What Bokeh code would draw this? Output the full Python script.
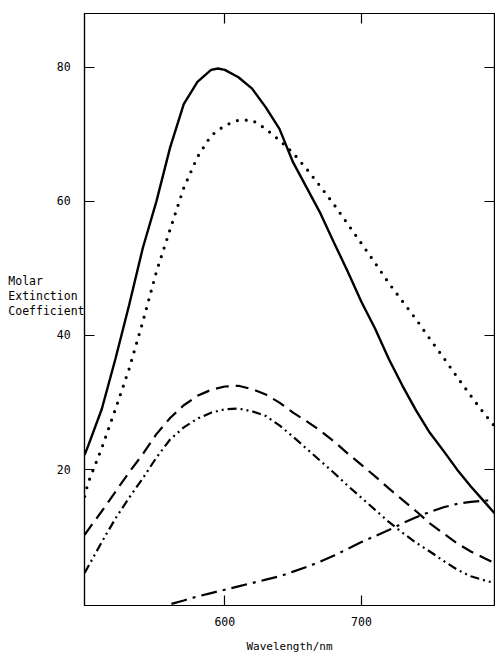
from bokeh.plotting import figure
from bokeh.models import LinearAxis, FixedTicker, Range1d
from bokeh.embed import file_html
from bokeh.resources import INLINE

# ---- data ----
wl_a = [497.5, 500, 510, 520, 530, 540, 550, 560, 570, 580, 590, 595, 600, 610, 620, 630,
        640, 650, 660, 670, 680, 690, 700, 710, 720, 730, 740, 750, 760, 770, 780, 790, 797.3]
eps_a = [22.2, 23.5, 29.0, 36.5, 44.5, 53.0, 60.0, 68.0, 74.5, 77.8, 79.6, 79.8, 79.6, 78.5, 76.8, 74.0,
         70.8, 65.8, 62.0, 58.2, 53.8, 49.5, 45.0, 41.0, 36.5, 32.5, 28.8, 25.5, 22.8, 20.0, 17.5, 15.2, 13.5]

wl_b = [497.5, 500, 510, 520, 530, 540, 550, 560, 570, 580, 590, 600, 610, 620, 630, 640, 650,
        660, 670, 680, 690, 700, 710, 720, 730, 740, 750, 760, 770, 780, 790, 797.3]
eps_b = [16.0, 18.0, 23.2, 29.0, 35.0, 42.0, 49.5, 55.8, 62.0, 66.6, 69.8, 71.3, 72.1, 72.1, 70.8, 69.1, 67.2,
         64.8, 62.2, 59.5, 56.6, 53.7, 50.8, 47.8, 45.1, 42.4, 39.5, 36.7, 33.8, 31.0, 28.3, 26.5]

wl_c = [497.5, 510, 520, 530, 540, 550, 560, 570, 580, 590, 600, 610, 620, 630, 640, 650, 660,
        670, 680, 690, 700, 710, 720, 730, 740, 750, 760, 770, 780, 790, 797.3]
eps_c = [10.3, 13.8, 16.7, 19.6, 22.3, 25.3, 27.7, 29.6, 31.0, 31.9, 32.4, 32.5, 32.0, 31.2, 30.0, 28.5, 27.2,
         25.8, 24.2, 22.4, 20.7, 19.0, 17.2, 15.5, 13.8, 12.0, 10.5, 9.0, 7.8, 6.8, 6.1]

wl_d = [497.5, 510, 520, 530, 540, 550, 560, 570, 580, 590, 600, 610, 620, 630, 640, 650, 660,
        670, 680, 690, 700, 710, 720, 730, 740, 750, 760, 770, 780, 790, 797.3]
eps_d = [4.6, 9.2, 12.7, 15.8, 18.7, 21.8, 24.5, 26.3, 27.6, 28.5, 29.0, 29.1, 28.7, 28.0, 26.6, 24.9, 23.1,
         21.3, 19.5, 17.6, 15.8, 14.0, 12.2, 10.6, 9.1, 7.8, 6.4, 5.1, 4.1, 3.5, 3.1]

wl_e = [561, 570, 580, 590, 600, 610, 620, 630, 640, 650, 660, 670, 680, 690, 700, 710, 720,
        730, 740, 750, 760, 770, 780, 790, 797.3]
eps_e = [0.0, 0.5, 1.1, 1.6, 2.1, 2.6, 3.1, 3.6, 4.1, 4.8, 5.5, 6.3, 7.2, 8.2, 9.2, 10.1, 11.0,
         12.0, 12.9, 13.7, 14.4, 14.9, 15.2, 15.4, 15.4]

x_ticks = [600, 700]
y_ticks = [20, 40, 60, 80]
y_title_lines = ["Molar", "Extinction", "Coefficient"]
y_title_at = [48.12, 45.96, 43.65]     # vertical places of the title lines (y units)
x_title = "Wavelength/nm"

FONT = "DejaVu Sans Mono"
NB = "\u00a0"

p = figure(width=495, height=655, output_backend="svg", toolbar_location=None,
           x_range=Range1d(497.4, 797.3), y_range=Range1d(-0.25, 88.0),
           min_border_left=84, min_border_right=1, min_border_top=13, min_border_bottom=49)
p.grid.visible = False
p.outline_line_color = "black"
p.outline_line_width = 1.2
p.background_fill_color = "white"
p.border_fill_color = "white"

lw = 2.2
p.line(wl_a, eps_a, line_color="black", line_width=2.4)
p.line(wl_b, eps_b, line_color="black", line_width=3.2, line_dash="0 9", line_cap="round")
p.line(wl_c, eps_c, line_color="black", line_width=lw, line_dash="13 7")
p.line(wl_d, eps_d, line_color="black", line_width=lw, line_dash="9 4 2 4 2 4")
p.line(wl_e, eps_e, line_color="black", line_width=lw, line_dash="16 6 3 6")

def style_axis(ax, ticks, show_labels):
    ax.ticker = FixedTicker(ticks=ticks)
    ax.minor_tick_line_color = None
    ax.major_tick_in = 10
    ax.major_tick_out = 0
    ax.axis_line_color = "black"
    ax.axis_line_width = 1.2
    ax.major_tick_line_color = "black"
    ax.major_tick_line_width = 1.2
    if show_labels:
        ax.major_label_text_font = FONT
        ax.major_label_text_font_size = "11.5px"
        ax.major_label_text_color = "black"
    else:
        ax.major_label_overrides = {t: "" for t in ticks}
        ax.major_label_text_font_size = "1px"
        ax.major_label_standoff = 0

xax = p.xaxis[0]
style_axis(xax, x_ticks, True)
xax.major_label_standoff = 11
xax.axis_label = x_title
xax.axis_label_text_font = FONT
xax.axis_label_text_font_size = "11px"
xax.axis_label_text_font_style = "normal"
xax.axis_label_text_color = "black"
xax.axis_label_standoff = 11

# inner left axis: line and inward ticks only
yax = p.yaxis[0]
style_axis(yax, y_ticks, False)

# outer left axis: numbers and the horizontal, left-aligned title (monospace padding)
width = max(len(s) for s in y_title_lines)
overrides = {float(t): f"{t}" + NB * 2 for t in y_ticks}
for t, s in zip(y_title_at, y_title_lines):
    overrides[t] = s + NB * (width - len(s))
outer = LinearAxis(ticker=FixedTicker(ticks=[float(t) for t in y_ticks] + y_title_at),
                   major_label_overrides=overrides,
                   major_tick_in=0, major_tick_out=0, minor_tick_line_color=None,
                   axis_line_color=None, major_tick_line_color=None,
                   major_label_standoff=0,
                   major_label_text_font=FONT, major_label_text_font_size="11.5px",
                   major_label_text_color="black")
p.add_layout(outer, "left")

top = LinearAxis()
style_axis(top, x_ticks, False)
p.add_layout(top, "above")
right = LinearAxis()
style_axis(right, y_ticks, False)
p.add_layout(right, "right")

open("out.html", "w").write(file_html(p, INLINE))
